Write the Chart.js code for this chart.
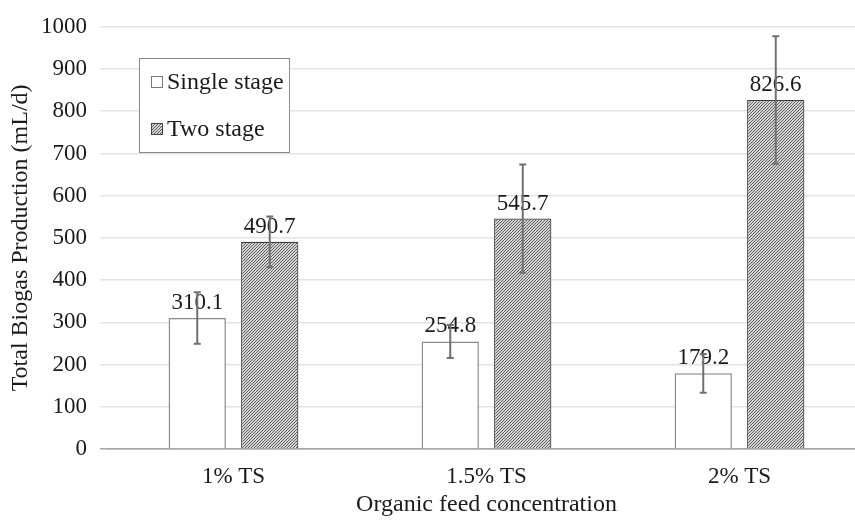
<!DOCTYPE html>
<html>
<head>
<meta charset="utf-8">
<script src="https://cdn.jsdelivr.net/npm/chart.js@4.4.0/dist/chart.umd.min.js"></script>
<style>
html,body{margin:0;padding:0;background:#fff;overflow:hidden;}
#wrap{width:855px;height:520px;position:relative;overflow:hidden;}
#c{position:absolute;left:0;top:0;}
</style>
</head>
<body>
<div id="wrap"><canvas id="c" width="866" height="520"></canvas></div>
<script>
const categories = ['1% TS', '1.5% TS', '2% TS'];
const seriesNames = ['Single stage', 'Two stage'];
const singleStage = [310.1, 254.8, 179.2];
const twoStage = [490.7, 545.7, 826.6];
const singleErr = [61, 39, 46];
const twoErr = [60, 128, 151];
const yTicks = [0, 100, 200, 300, 400, 500, 600, 700, 800, 900, 1000];
const yTitle = 'Total Biogas Production (mL/d)';
const xTitle = 'Organic feed concentration';

const FONT = "'Liberation Serif', 'Times New Roman', serif";
const AXIS_COLOR = '#a8a8a8';
const GRID_COLOR = '#e3e3e3';

function makeHatch() {
  const c = document.createElement('canvas');
  c.width = 3; c.height = 3;
  const g = c.getContext('2d');
  g.fillStyle = '#d4d4d4';
  g.fillRect(0, 0, 3, 3);
  g.fillStyle = '#5e5e5e';
  g.fillRect(2, 0, 1, 1);
  g.fillRect(1, 1, 1, 1);
  g.fillRect(0, 2, 1, 1);
  return g.createPattern(c, 'repeat');
}
const hatch = makeHatch();
const errors = [singleErr, twoErr];

const overlayPlugin = {
  id: 'overlay',
  afterDatasetsDraw(chart) {
    const ctx = chart.ctx;
    const ys = chart.scales.y;
    ctx.save();
    ctx.font = '23px ' + FONT;
    ctx.fillStyle = '#1a1a1a';
    ctx.textAlign = 'center';
    ctx.textBaseline = 'alphabetic';
    chart.data.datasets.forEach((ds, di) => {
      const meta = chart.getDatasetMeta(di);
      meta.data.forEach((el, i) => {
        ctx.fillText(ds.data[i].toFixed(1), el.x, el.y - 9);
      });
    });
    ctx.strokeStyle = '#707070';
    ctx.lineWidth = 2;
    chart.data.datasets.forEach((ds, di) => {
      const meta = chart.getDatasetMeta(di);
      meta.data.forEach((el, i) => {
        const v = ds.data[i], e = errors[di][i];
        const yt = ys.getPixelForValue(v + e);
        const yb = ys.getPixelForValue(v - e);
        ctx.beginPath();
        ctx.moveTo(el.x, yt); ctx.lineTo(el.x, yb);
        ctx.moveTo(el.x - 3.5, yt); ctx.lineTo(el.x + 3.5, yt);
        ctx.moveTo(el.x - 3.5, yb); ctx.lineTo(el.x + 3.5, yb);
        ctx.stroke();
      });
    });
    const lx = 139, ly = 58, lw = 150, lh = 94;
    ctx.fillStyle = '#ffffff';
    ctx.fillRect(lx, ly, lw, lh);
    ctx.strokeStyle = '#8a8a8a';
    ctx.lineWidth = 1;
    ctx.strokeRect(lx + 0.5, ly + 0.5, lw, lh);
    const fills = ['#ffffff', hatch];
    const strokes = ['#7a7a7a', '#444444'];
    const rowY = [82, 129];
    ctx.font = '24px ' + FONT;
    ctx.textAlign = 'left';
    ctx.textBaseline = 'middle';
    seriesNames.forEach((n, k) => {
      const sy = rowY[k];
      ctx.fillStyle = fills[k];
      ctx.fillRect(151, sy - 6, 12, 12);
      ctx.strokeStyle = strokes[k];
      ctx.strokeRect(151.5, sy - 5.5, 11, 11);
      ctx.fillStyle = '#1a1a1a';
      ctx.fillText(n, 167, sy + 1);
    });
    ctx.restore();
  }
};

new Chart(document.getElementById('c'), {
  type: 'bar',
  data: {
    labels: categories,
    datasets: [
      {
        label: seriesNames[0],
        data: singleStage,
        backgroundColor: '#ffffff',
        borderColor: '#8a8a8a',
        borderWidth: 1.5,
        barPercentage: 0.79,
        categoryPercentage: 0.573
      },
      {
        label: seriesNames[1],
        data: twoStage,
        backgroundColor: hatch,
        borderColor: '#3a3a3a',
        borderWidth: 1.2,
        barPercentage: 0.79,
        categoryPercentage: 0.573
      }
    ]
  },
  options: {
    responsive: false,
    animation: false,
    devicePixelRatio: 1,
    layout: { padding: { top: 22, right: 0, bottom: 0, left: 0 } },
    plugins: { legend: { display: false }, tooltip: { enabled: false } },
    scales: {
      x: {
        grid: { display: false, drawTicks: false },
        border: { display: true, color: AXIS_COLOR, width: 1.5 },
        ticks: { color: '#1a1a1a', font: { family: FONT, size: 23 }, padding: 14, maxRotation: 0 },
        title: { display: true, text: xTitle, color: '#1a1a1a', font: { family: FONT, size: 24 }, padding: { top: 0, bottom: 1 } },
        afterFit(s) { s.height = 71; }
      },
      y: {
        min: 0, max: 1000,
        afterBuildTicks(s) { s.ticks = yTicks.map(v => ({ value: v })); },
        grid: {
          color: c => (c.tick && c.tick.value === 0 ? AXIS_COLOR : GRID_COLOR),
          lineWidth: 1.5,
          drawTicks: true,
          tickLength: 7
        },
        border: { display: false },
        ticks: { color: '#1a1a1a', font: { family: FONT, size: 23 }, padding: 13, callback: v => String(v) },
        title: { display: true, text: yTitle, color: '#1a1a1a', font: { family: FONT, size: 24 }, padding: { top: 6, bottom: 0 } },
        afterFit(s) { s.width = 107; }
      }
    }
  },
  plugins: [overlayPlugin]
});
</script>
</body>
</html>
